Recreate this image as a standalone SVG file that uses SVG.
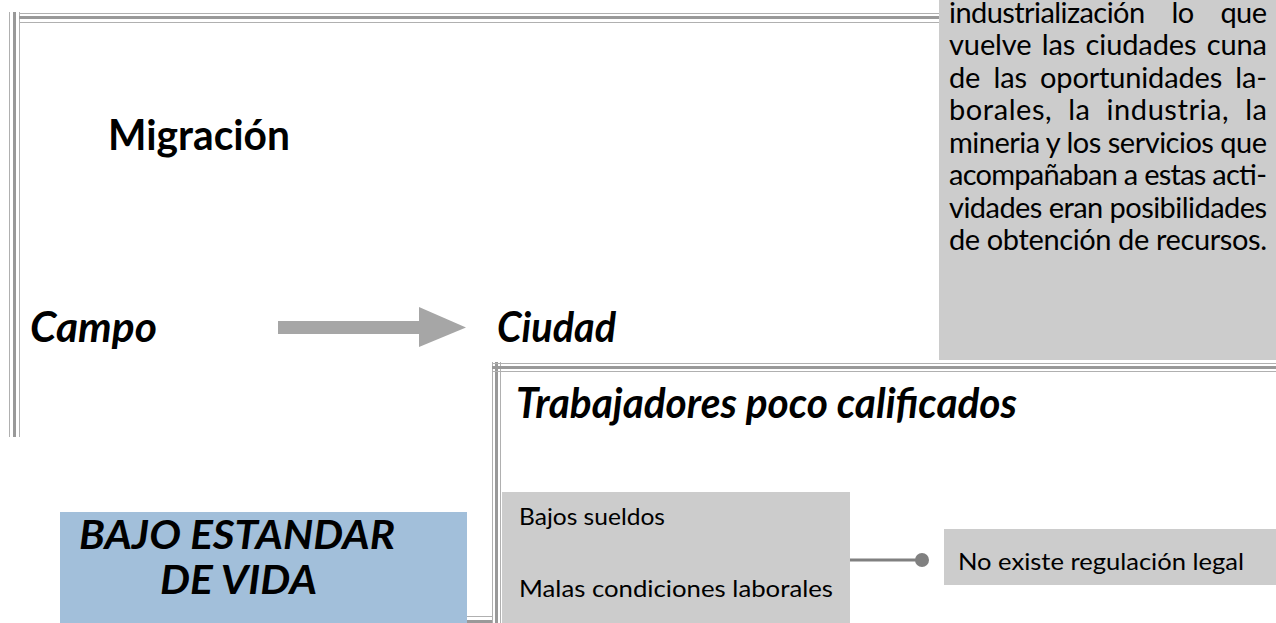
<svg xmlns="http://www.w3.org/2000/svg" width="1276" height="623" viewBox="0 0 1276 623">
<defs>
<style>
.thin{fill:#b0b0b0}
.thick{fill:#999999}
.gbox{fill:#cccccc}
.t{font-family:"Lato","Open Sans","Liberation Sans",sans-serif;fill:#000}
.body{font-size:29px}
.small{font-size:23px}
.h{font-weight:bold}
.hi{font-weight:bold;font-style:italic}
</style>
<marker id="dot" viewBox="0 0 14 14" refX="7" refY="7" markerWidth="14" markerHeight="14" markerUnits="userSpaceOnUse">
<circle cx="7" cy="7" r="7" fill="#808080"/>
</marker>
</defs>
<rect width="1276" height="623" fill="#ffffff"/>

<g id="frame-migracion">
<rect class="thin" x="9" y="12" width="1" height="425"/>
<rect class="thick" x="13" y="12" width="3" height="425"/>
<rect class="thin" x="19" y="12" width="1" height="425"/>
<rect class="thin" x="19" y="13" width="920" height="1"/>
<rect class="thick" x="19" y="16" width="920" height="3"/>
<rect class="thin" x="19" y="22" width="920" height="1"/>
</g>

<g id="frame-trabajadores">
<rect class="thin" x="492" y="362" width="1" height="261"/>
<rect class="thick" x="495" y="362" width="3" height="261"/>
<rect class="thin" x="500" y="362" width="1" height="261"/>
<rect class="thin" x="492" y="363" width="784" height="1"/>
<rect class="thick" x="492" y="366" width="784" height="3"/>
<rect class="thin" x="492" y="371" width="784" height="1"/>
<rect class="thin" x="440" y="616" width="52" height="1"/>
<rect class="thick" x="440" y="620" width="52" height="3"/>
</g>

<g id="node-info">
<rect class="gbox" x="939" y="0" width="337" height="360"/>
<text class="t body" x="949" y="23" word-spacing="20" textLength="318" lengthAdjust="spacing">industrialización lo que</text>
<text class="t body" x="949" y="55" word-spacing="3" textLength="318" lengthAdjust="spacing">vuelve las ciudades cuna</text>
<text class="t body" x="949" y="88" word-spacing="6" textLength="318" lengthAdjust="spacing">de las oportunidades la-</text>
<text class="t body" x="949" y="120" word-spacing="8" textLength="318" lengthAdjust="spacing">borales, la industria, la</text>
<text class="t body" x="949" y="153" textLength="318" lengthAdjust="spacing">mineria y los servicios que</text>
<text class="t body" x="949" y="185" textLength="318" lengthAdjust="spacing">acompañaban a estas acti-</text>
<text class="t body" x="949" y="218" textLength="318" lengthAdjust="spacing">vidades eran posibilidades</text>
<text class="t body" x="949" y="250" textLength="318" lengthAdjust="spacing">de obtención de recursos.</text>
</g>

<g id="node-migracion">
<text class="t h" x="108" y="150" font-size="42" textLength="182" lengthAdjust="spacingAndGlyphs">Migración</text>
</g>

<g id="node-campo">
<text class="t hi" x="30" y="342" font-size="42" textLength="127" lengthAdjust="spacingAndGlyphs">Campo</text>
</g>

<g id="node-ciudad">
<text class="t hi" x="497" y="342" font-size="42" textLength="119" lengthAdjust="spacingAndGlyphs">Ciudad</text>
</g>

<g id="node-trabajadores">
<text class="t hi" x="516" y="418" font-size="42" textLength="501" lengthAdjust="spacingAndGlyphs">Trabajadores poco calificados</text>
</g>

<g id="node-bajo-estandar">
<rect x="60" y="512" width="407" height="111" fill="#a2bfda"/>
<text class="t hi" x="79" y="549" font-size="41" textLength="316" lengthAdjust="spacingAndGlyphs">BAJO ESTANDAR</text>
<text class="t hi" x="160" y="594" font-size="41" textLength="157" lengthAdjust="spacingAndGlyphs">DE VIDA</text>
</g>

<g id="node-condiciones">
<rect class="gbox" x="502" y="492" width="348" height="131"/>
<text class="t small" x="519" y="525" textLength="146" lengthAdjust="spacingAndGlyphs">Bajos sueldos</text>
<text class="t small" x="519" y="597" textLength="314" lengthAdjust="spacingAndGlyphs">Malas condiciones laborales</text>
</g>

<g id="node-regulacion">
<rect class="gbox" x="944" y="529" width="332" height="56"/>
<text class="t small" x="958" y="570" textLength="286" lengthAdjust="spacingAndGlyphs">No existe regulación legal</text>
</g>

<g id="connectors">
<rect x="278" y="321" width="142" height="13" fill="#a6a6a6"/>
<polygon points="419,307 466,327.5 419,347" fill="#a6a6a6"/>
<line x1="850" y1="560" x2="922" y2="560" stroke="#808080" stroke-width="3" marker-end="url(#dot)"/>
</g>
</svg>
